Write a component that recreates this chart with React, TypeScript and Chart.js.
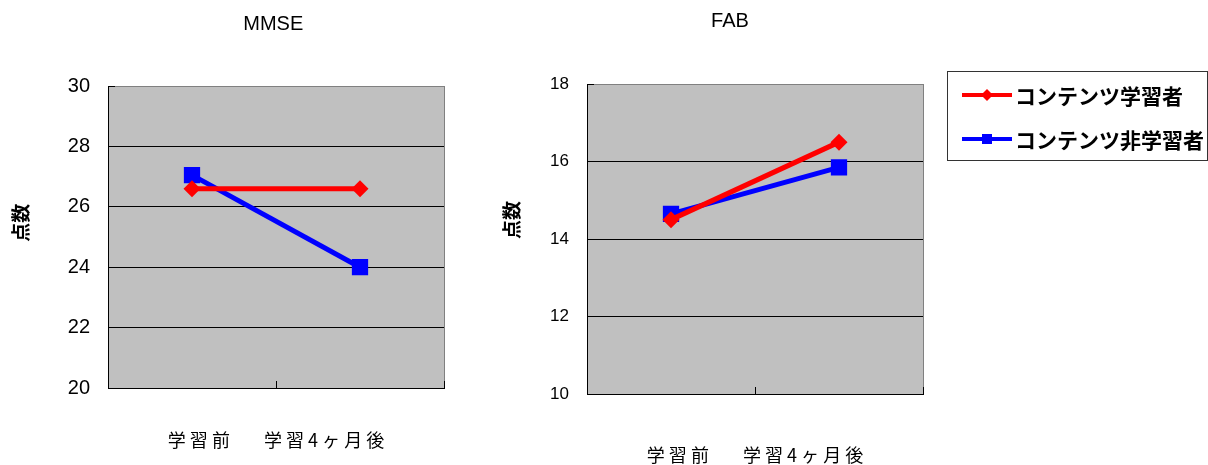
import React, { useEffect, useRef } from "react";
import { Chart, registerables } from "chart.js";

Chart.register(...registerables);

// ---- data ----
const categories = ["学習前", "学習4ヶ月後"];
const seriesNames = ["コンテンツ学習者", "コンテンツ非学習者"];
const mmseLearners = [26.6, 26.6];
const mmseNonLearners = [27.05, 24.0];
const fabLearners = [14.5, 16.5];
const fabNonLearners = [14.65, 15.85];
const mmseTicks = [20, 22, 24, 26, 28, 30];
const fabTicks = [10, 12, 14, 16, 18];
const yAxisLabel = "点数";

const RED = "#FF0000";
const BLUE = "#0000FF";
const CJK = "'Noto Sans CJK JP', sans-serif";
const LAT = "'Liberation Sans', Arial, sans-serif";

// x-axis caption: both category names under the axis, letter-spaced
const xCaption = categories.map((c) => Array.from(c).join(" ")).join("  \u3000  ");

const plotBg = {
  id: "plotBg",
  beforeDraw(chart: any) {
    const { ctx, chartArea: a } = chart;
    ctx.save();
    ctx.fillStyle = "#C0C0C0";
    ctx.fillRect(a.left, a.top, a.right - a.left, a.bottom - a.top);
    ctx.strokeStyle = "#808080";
    ctx.lineWidth = 1;
    ctx.strokeRect(Math.round(a.left) + 0.5, Math.round(a.top) + 0.5, Math.round(a.right - a.left), Math.round(a.bottom - a.top));
    ctx.restore();
  },
};

const boxLegend = {
  id: "boxLegend",
  afterDraw(chart: any, _args: any, opts: any) {
    if (!opts || !opts.show) return;
    const { ctx } = chart;
    const { x, y, w, h, rows, lineX1, lineX2, textX } = opts;
    ctx.save();
    ctx.fillStyle = "#FFFFFF";
    ctx.fillRect(x, y, w, h);
    ctx.strokeStyle = "#333333";
    ctx.lineWidth = 1;
    ctx.strokeRect(x + 0.5, y + 0.5, w, h);
    chart.data.datasets.forEach((ds: any, i: number) => {
      const ry = rows[i];
      ctx.strokeStyle = ds.borderColor;
      ctx.lineWidth = 4;
      ctx.beginPath();
      ctx.moveTo(lineX1, ry);
      ctx.lineTo(lineX2, ry);
      ctx.stroke();
      const cx = (lineX1 + lineX2) / 2;
      ctx.fillStyle = ds.borderColor;
      if (ds.pointStyle === "rectRot") {
        ctx.beginPath();
        ctx.moveTo(cx, ry - 6);
        ctx.lineTo(cx + 6, ry);
        ctx.lineTo(cx, ry + 6);
        ctx.lineTo(cx - 6, ry);
        ctx.closePath();
        ctx.fill();
      } else {
        ctx.fillRect(cx - 5, ry - 5, 10, 10);
      }
      ctx.fillStyle = "#000";
      ctx.font = `bold 21px ${CJK}`;
      ctx.textBaseline = "middle";
      ctx.textAlign = "left";
      ctx.fillText(ds.label, textX, ry + 1);
    });
    ctx.restore();
  },
};

function makeConfig(p: any) {
  const tickVals: number[] = p.ticks;
  return {
    type: "line",
    data: {
      labels: categories,
      datasets: [
        {
          label: seriesNames[0],
          data: p.a,
          borderColor: RED,
          backgroundColor: RED,
          borderWidth: 5,
          pointStyle: "rectRot",
          pointRadius: 8.5,
          pointBorderWidth: 0,
          pointBackgroundColor: RED,
        },
        {
          label: seriesNames[1],
          data: p.b,
          borderColor: BLUE,
          backgroundColor: BLUE,
          borderWidth: 5,
          pointStyle: "rect",
          pointRadius: 11.5,
          pointBorderWidth: 0,
          pointBackgroundColor: BLUE,
        },
      ],
    },
    options: {
      responsive: false,
      animation: false,
      devicePixelRatio: 1,
      layout: { padding: { left: 0, right: p.padRight, top: 0, bottom: 0 } },
      plugins: {
        legend: { display: false },
        tooltip: { enabled: false },
        title: {
          display: true,
          text: p.title,
          fullSize: false,
          color: "#000",
          font: { family: LAT, size: 20, weight: "normal", lineHeight: 1.2 },
          padding: { top: p.titleTop, bottom: p.titleBottom },
        },
        boxLegend: p.legend || { show: false },
      },
      scales: {
        x: {
          type: "category",
          offset: true,
          grid: {
            offset: true,
            drawOnChartArea: false,
            drawTicks: true,
            tickLength: -7,
            color: "#000",
            tickColor: "#000",
          },
          border: { display: true, color: "#000", width: 1 },
          ticks: { display: false },
          title: {
            display: true,
            text: xCaption,
            color: "#000",
            font: { family: CJK, size: 18, lineHeight: 1 },
            padding: { top: 0, bottom: p.xTitleBottom },
          },
          afterFit: (s: any) => {
            s.height = p.xHeight;
          },
        },
        y: {
          type: "linear",
          position: "left",
          min: tickVals[0],
          max: tickVals[tickVals.length - 1],
          afterBuildTicks: (s: any) => {
            s.ticks = tickVals.map((v) => ({ value: v }));
          },
          afterFit: (s: any) => {
            s.width = p.yWidth;
          },
          grid: {
            color: (c: any) => (c.tick && c.tick.value === tickVals[tickVals.length - 1] ? "#808080" : "#000"),
            lineWidth: 1,
            drawTicks: true,
            tickLength: -7,
            tickColor: "#000",
          },
          border: { display: true, color: "#000", width: 1 },
          ticks: {
            color: "#000",
            font: { family: LAT, size: p.tickSize },
            padding: 25,
          },
          title: {
            display: true,
            text: p.yTitle,
            color: "#000",
            font: { family: CJK, size: 19, weight: "bold", lineHeight: 1.2 },
            padding: { top: p.yTitlePad, bottom: 0 },
          },
        },
      },
    },
    plugins: [plotBg, boxLegend],
  };
}

function ChartCanvas(props: { config: any; left: number; width: number; height: number }) {
  const ref = useRef<HTMLCanvasElement>(null);
  useEffect(() => {
    if (!ref.current) return;
    const chart = new Chart(ref.current, props.config);
    return () => chart.destroy();
  }, []);
  return (
    <canvas
      ref={ref}
      width={props.width}
      height={props.height}
      style={{ position: "absolute", left: props.left, top: 0, width: props.width, height: props.height }}
    />
  );
}

export default function App() {
  const mmse = makeConfig({
    title: "MMSE ",
    a: mmseLearners,
    b: mmseNonLearners,
    ticks: mmseTicks,
    padRight: 26,
    titleTop: 12.5,
    titleBottom: 49.5,
    yWidth: 108,
    yTitlePad: 9.5,
    yTitle: "\u3000\u2002" + yAxisLabel,
    tickSize: 20,
    xHeight: 77,
    xTitleBottom: 16,
  });
  const fab = makeConfig({
    title: "FAB" + "         ",
    a: fabLearners,
    b: fabNonLearners,
    ticks: fabTicks,
    padRight: 285,
    titleTop: 9.7,
    titleBottom: 50.3,
    yWidth: 117,
    yTitlePad: 30.5,
    yTitle: "\u3000\u3000" + yAxisLabel,
    tickSize: 17,
    xHeight: 71,
    xTitleBottom: 1,
    legend: { show: true, x: 477, y: 71, w: 260, h: 89, rows: [95, 139], lineX1: 492, lineX2: 542, textX: 545 },
  });
  return (
    <div style={{ position: "fixed", left: 0, top: 0, width: 1208, height: 465, background: "#fff" }}>
      <ChartCanvas config={mmse} left={0} width={470} height={465} />
      <ChartCanvas config={fab} left={470} width={738} height={465} />
    </div>
  );
}
